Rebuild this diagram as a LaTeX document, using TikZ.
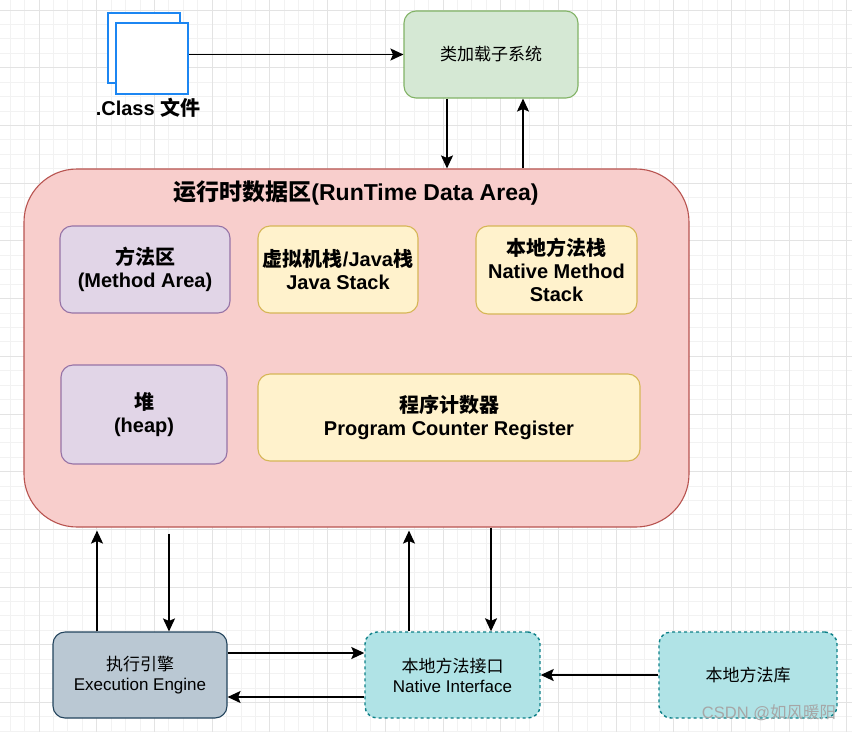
\documentclass[tikz,border=0pt]{standalone}
\usepackage{fontspec}
\setmainfont{Liberation Sans}
\newfontfamily\cjk{Noto Sans CJK SC}
\usetikzlibrary{arrows.meta}

\definecolor{gridlo}{HTML}{F2F2F2}
\definecolor{gridhi}{HTML}{E3E3E3}
\definecolor{docblue}{HTML}{1C86F2}
\definecolor{greenfill}{HTML}{D5E8D4}
\definecolor{greenline}{HTML}{82B366}
\definecolor{redfill}{HTML}{F8CECC}
\definecolor{redline}{HTML}{B85450}
\definecolor{purpfill}{HTML}{E1D5E7}
\definecolor{purpline}{HTML}{9673A6}
\definecolor{yelfill}{HTML}{FFF2CC}
\definecolor{yelline}{HTML}{D6B656}
\definecolor{slatefill}{HTML}{BAC8D3}
\definecolor{slateline}{HTML}{23445D}
\definecolor{tealfill}{HTML}{B0E3E6}
\definecolor{tealline}{HTML}{0E8088}

\tikzset{
  box/.style={draw, line width=1.1pt, rounded corners=12pt, align=center, inner sep=0pt},
  boldtxt/.style={font=\bfseries\fontsize{20}{23}\selectfont},
  plaintxt/.style={font=\fontsize{17}{20}\selectfont},
  purplebox/.style={box, boldtxt, draw=purpline, fill=purpfill},
  yellowbox/.style={box, boldtxt, draw=yelline, fill=yelfill},
  tealbox/.style={box, plaintxt, draw=tealline, fill=tealfill, line width=1.4pt, dash pattern=on 3pt off 3pt},
  doc/.style={draw=docblue, line width=2.6pt, fill=white, inner sep=0pt, minimum width=72pt},
  arr/.style={-{Stealth[length=13pt,width=12pt,inset=2.5pt]}, line width=1.6pt},
  gridminor/.style={draw=gridlo, line width=0.8pt},
  gridmajor/.style={draw=gridhi, line width=0.8pt}
}

\begin{document}
\begin{tikzpicture}[x=1pt,y=-1pt]
\useasboundingbox (0,0) rectangle (852,732);
\fill[white] (0,0) rectangle (852,732);
% background grid
\foreach \i in {-2,...,56} \draw[gridminor] ({39+14.425*\i},0) -- ++(0,732);
\foreach \j in {0,...,50} \draw[gridminor] (0,{10+14.425*\j}) -- ++(852,0);
\foreach \i in {0,...,14} \draw[gridmajor] ({39+57.7*\i},0) -- ++(0,732);
\foreach \j in {0,...,12} \draw[gridmajor] (0,{10+57.7*\j}) -- ++(852,0);

% class file
\node[doc, minimum height=70pt] (back) at (144,48) {};
\node[doc, minimum height=71pt] (front) at (152,58.5) {};
\node[boldtxt] (classlbl) at (148,108) {.Class {\cjk 文件}};
\node[box, plaintxt, draw=greenline, fill=greenfill, minimum width=174pt, minimum height=87pt] (loader) at (491,54.5) {\cjk 类加载子系统};

% runtime data area
\node[box, draw=redline, fill=redfill, rounded corners=53pt, minimum width=665pt, minimum height=358pt] (rt) at (356.5,348) {};
\node[font=\bfseries\fontsize{23}{26}\selectfont] (title) at (356,193) {{\cjk 运行时数据区}(RunTime Data Area)};
\node[purplebox, minimum width=170pt, minimum height=87pt] (method) at (145,269.5) {{\cjk 方法区}\\(Method Area)};
\node[yellowbox, minimum width=160pt, minimum height=87pt] (jstack) at (338,269.5) {{\cjk 虚拟机栈}/Java{\cjk 栈}\\Java Stack};
\node[yellowbox, minimum width=161pt, minimum height=88pt] (nstack) at (556.5,270) {{\cjk 本地方法栈}\\Native Method\\Stack};
\node[purplebox, minimum width=166pt, minimum height=99pt] (heap) at (144,414.5) {{\cjk 堆}\\(heap)};
\node[yellowbox, minimum width=382pt, minimum height=87pt] (pc) at (449,417.5) {{\cjk 程序计数器}\\Program Counter Register};

% bottom row
\node[box, plaintxt, draw=slateline, fill=slatefill, minimum width=174pt, minimum height=86pt] (exec) at (140,675) {{\cjk 执行引擎}\\Execution Engine};
\node[tealbox, minimum width=175pt, minimum height=86pt] (ni) at (452.5,675) {{\cjk 本地方法接口}\\Native Interface};
\node[tealbox, minimum width=178pt, minimum height=86pt] (nl) at (748,675) {\cjk 本地方法库};

\draw[arr] (front.east |- loader.west) -- (loader.west);
\draw[arr] (loader.south -| 447,0) -- (rt.north -| 447,0);
\draw[arr] (rt.north -| 523,0) -- (loader.south -| 523,0);
\draw[arr, shorten >=3pt] (exec.north -| 97,0) -- (rt.south -| 97,0);
\draw[arr, shorten <=6pt] (rt.south -| 169,0) -- (exec.north -| 169,0);
\draw[arr, shorten >=3pt] (ni.north -| 409,0) -- (rt.south -| 409,0);
\draw[arr] (rt.south -| 491,0) -- (ni.north -| 491,0);
\draw[arr] (exec.east |- 0,653) -- (ni.west |- 0,653);
\draw[arr] (ni.west |- 0,697) -- (exec.east |- 0,697);
\draw[arr] (nl.west) -- (ni.east);

\node[font=\fontsize{16.5}{19}\selectfont, text=black!35] (mark) at (769,713) {CSDN @{\cjk 如风暖阳}};
\end{tikzpicture}
\end{document}
